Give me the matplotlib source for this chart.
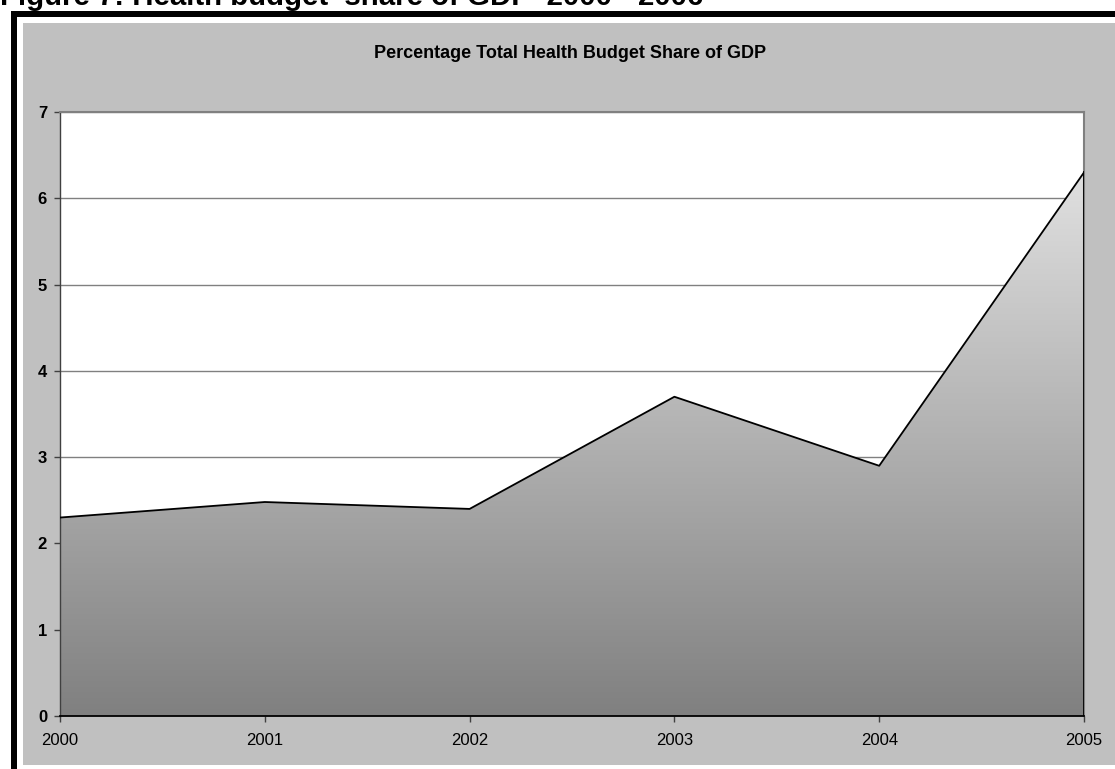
from __future__ import annotations

import matplotlib

matplotlib.use("Agg")
import matplotlib.pyplot as plt
import numpy as np
from matplotlib.colors import LinearSegmentedColormap
from matplotlib.lines import Line2D
from matplotlib.patches import Rectangle

YEARS = ["2000", "2001", "2002", "2003", "2004", "2005"]
SHARE_GDP = [2.3, 2.48, 2.4, 3.7, 2.9, 6.3]
Y_TICKS = [0, 1, 2, 3, 4, 5, 6, 7]

FIG_W, FIG_H, DPI = 1115, 769, 100
FONT = ["Liberation Sans", "DejaVu Sans"]


def px_x(x: float) -> float:
    return x / FIG_W


def px_y(y: float) -> float:
    return 1 - y / FIG_H


def main() -> None:
    plt.rcParams["font.family"] = FONT
    fig = plt.figure(figsize=(FIG_W / DPI, FIG_H / DPI), dpi=DPI, facecolor="white")

    # grey chart area and the thick black frame around it
    fig.patches.append(Rectangle((px_x(23), px_y(765)), 1 - px_x(23), px_y(23) - px_y(765),
                                 transform=fig.transFigure, facecolor="#c0c0c0", edgecolor="none", zorder=-5))
    lw = 6 * 72 / DPI
    fig.lines.append(Line2D([px_x(14), px_x(14)], [px_y(14), 0], transform=fig.transFigure,
                            color="black", linewidth=lw, solid_capstyle="projecting", zorder=10))
    fig.lines.append(Line2D([px_x(14), 1], [px_y(14), px_y(14)], transform=fig.transFigure,
                            color="black", linewidth=lw, solid_capstyle="projecting", zorder=10))

    fig.text(px_x(0), px_y(5), "Figure 7: Health budget  share of GDP  2000 - 2006",
             fontsize=21.2, fontweight="bold", ha="left", va="baseline", zorder=5)
    fig.text(px_x(570), px_y(54), "Percentage Total Health Budget Share of GDP",
             fontsize=13, fontweight="bold", ha="center", va="center")

    left, right, top, bottom = 60, 1084, 112, 716
    ax = fig.add_axes([px_x(left), px_y(bottom), px_x(right) - px_x(left), px_y(top) - px_y(bottom)])
    ax.set_facecolor("white")

    x = np.arange(len(YEARS))
    y = np.array(SHARE_GDP)

    # vertical grey gradient clipped to the area under the line
    cmap = LinearSegmentedColormap.from_list("greys", ["#808080", "#e0e0e0"])
    grad = np.linspace(0, 1, 256).reshape(-1, 1)
    img = ax.imshow(grad, cmap=cmap, aspect="auto", origin="lower",
                    extent=[x[0], x[-1], 0, y.max()], zorder=2)
    poly = ax.fill_between(x, y, 0, facecolor="none", edgecolor="none", zorder=2)
    img.set_clip_path(poly.get_paths()[0], transform=ax.transData)
    ax.plot(x, y, color="black", linewidth=1.3, zorder=3)
    ax.plot([x[-1], x[-1]], [0, y[-1]], color="black", linewidth=1.3, zorder=3)

    ax.set_xlim(x[0], x[-1])
    ax.set_ylim(0, 7)
    ax.set_yticks(Y_TICKS)
    ax.set_yticklabels([str(t) for t in Y_TICKS], fontsize=12, fontweight="bold")
    ax.set_xticks(x)
    ax.set_xticklabels(YEARS, fontsize=12)
    ax.tick_params(axis="y", direction="out", length=4.3, width=1, color="#404040", pad=5)
    ax.tick_params(axis="x", direction="out", length=4.3, width=1, color="#404040", pad=8)
    ax.grid(axis="y", color="#808080", linewidth=1)
    ax.set_axisbelow(True)

    for side in ("top", "right"):
        ax.spines[side].set_color("#808080")
        ax.spines[side].set_linewidth(1.5)
    ax.spines["left"].set_color("#404040")
    ax.spines["bottom"].set_color("black")
    ax.spines["bottom"].set_zorder(4)
    ax.spines["left"].set_linewidth(1)
    ax.spines["bottom"].set_linewidth(1.3)

    fig.savefig("out.png", dpi=DPI)
    plt.close(fig)


if __name__ == "__main__":
    main()
